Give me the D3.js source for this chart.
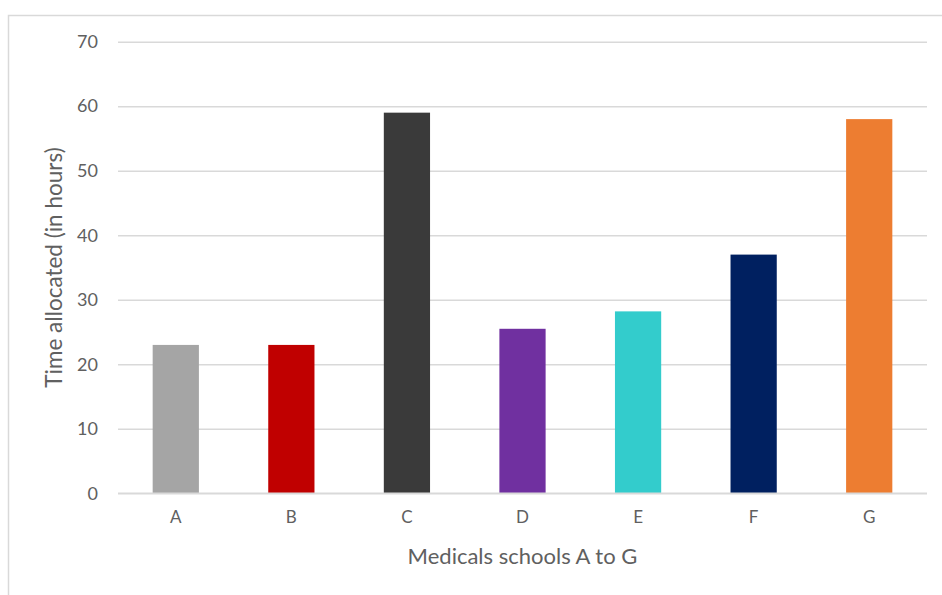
<!DOCTYPE html>
<html>
<head>
<meta charset="utf-8">
<script src="https://cdn.jsdelivr.net/npm/d3@7"></script>
<style>
  html, body { margin: 0; padding: 0; background: #fff; }
  svg { display: block; font-family: Lato, "Open Sans", sans-serif; }
</style>
</head>
<body>
<svg id="chart" width="942" height="595"></svg>
<script>
// Hours allocated per medical school
const schools = ["A", "B", "C", "D", "E", "F", "G"];
const hours = [23, 23, 59, 25.5, 28.2, 37, 58];
const barColors = ["#a5a5a5", "#c00000", "#3a3a3a", "#7030a0", "#33cccc", "#002060", "#ed7d31"];
const yTicks = [0, 10, 20, 30, 40, 50, 60, 70];
const xTitle = "Medicals schools A to G";
const yTitle = "Time allocated (in hours)";

const svg = d3.select("#chart");

// Chart area frame
svg.append("rect")
  .attr("x", 8.5).attr("y", 15.5)
  .attr("width", 960).attr("height", 620)
  .attr("fill", "#fff")
  .attr("stroke", "#d9d9d9")
  .attr("stroke-width", 1.5);

const plot = { left: 118, right: 927, top: 41.7, bottom: 493.3 };

const x = d3.scaleBand()
  .domain(schools)
  .range([plot.left, plot.right])
  .paddingInner(0.6)
  .paddingOuter(0.3);

const y = d3.scaleLinear()
  .domain([0, 70])
  .range([plot.bottom, plot.top]);

// Horizontal gridlines with value labels
const yAxis = d3.axisLeft(y)
  .tickValues(yTicks)
  .tickSize(-(plot.right - plot.left))
  .tickPadding(20);

const gy = svg.append("g")
  .attr("transform", `translate(${plot.left},0)`)
  .call(yAxis);
gy.select(".domain").remove();
gy.selectAll(".tick line")
  .attr("stroke", "#d9d9d9")
  .attr("stroke-width", 1.5);
gy.selectAll(".tick text")
  .attr("fill", "#606060")
  .style("font-size", "18px")
  .style("font-family", "Lato, sans-serif");

// Bars
svg.append("g")
  .selectAll("rect")
  .data(schools)
  .join("rect")
  .attr("x", d => x(d))
  .attr("width", x.bandwidth())
  .attr("y", (d, i) => y(hours[i]))
  .attr("height", (d, i) => y(0) - y(hours[i]))
  .attr("fill", (d, i) => barColors[i]);

// Baseline
svg.append("line")
  .attr("x1", plot.left).attr("x2", plot.right)
  .attr("y1", y(0)).attr("y2", y(0))
  .attr("stroke", "#d9d9d9")
  .attr("stroke-width", 1.5);

// Category labels
const xAxis = d3.axisBottom(x).tickSize(0).tickPadding(18);
const gx = svg.append("g")
  .attr("transform", `translate(0,${plot.bottom})`)
  .call(xAxis);
gx.select(".domain").remove();
gx.selectAll(".tick text")
  .attr("fill", "#606060")
  .style("font-size", "17px")
  .style("font-family", "Lato, sans-serif");

// Axis titles
svg.append("text")
  .attr("x", (plot.left + plot.right) / 2)
  .attr("y", 564)
  .attr("text-anchor", "middle")
  .attr("fill", "#606060")
  .style("font-size", "22px")
  .text(xTitle);

svg.append("text")
  .attr("transform", `translate(62,${(plot.top + plot.bottom) / 2}) rotate(-90)`)
  .attr("text-anchor", "middle")
  .attr("fill", "#606060")
  .style("font-size", "22.5px")
  .text(yTitle);
</script>
</body>
</html>
